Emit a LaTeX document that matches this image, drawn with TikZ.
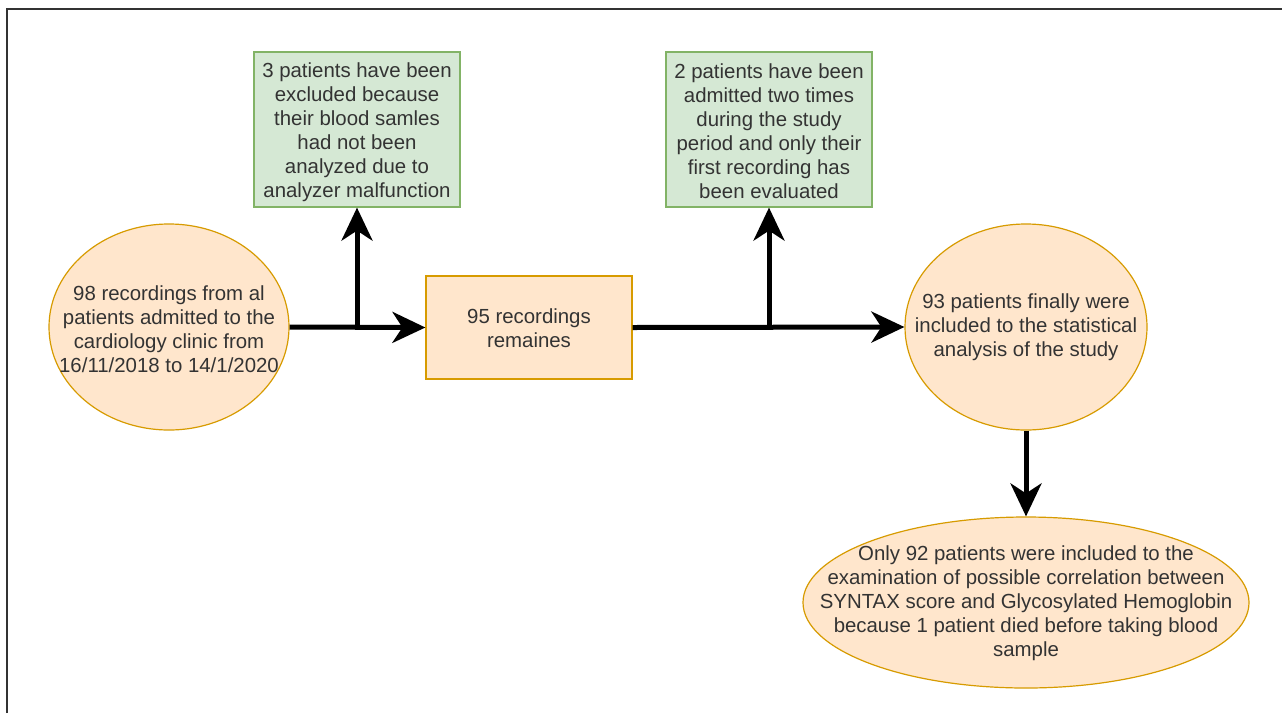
\documentclass[tikz,border=0pt]{standalone}
\usepackage{fontspec}
\setmainfont{Liberation Sans}
\usetikzlibrary{arrows.meta,shapes.geometric}
\definecolor{gfill}{HTML}{D5E8D4}
\definecolor{gdraw}{HTML}{82B366}
\definecolor{ofill}{HTML}{FFE6CC}
\definecolor{odraw}{HTML}{D79B00}
\definecolor{txtc}{HTML}{333333}
\tikzset{
  greenbox/.style={draw=gdraw, fill=gfill, line width=1.2pt, rectangle, inner sep=0pt},
  orangebox/.style={draw=odraw, fill=ofill, line width=1.2pt, rectangle, inner sep=0pt},
  orangeell/.style={draw=odraw, fill=ofill, line width=1.2pt, ellipse, inner sep=0pt},
  txt/.style={text=txtc, align=center, inner sep=0pt, font=\fontsize{20.4}{24}\selectfont},
  arr/.style={line width=5pt, black, -{Stealth[length=33pt, width=31pt, inset=10pt]}},
}
\begin{document}
\begin{tikzpicture}[x=1pt, y=-1pt]
\useasboundingbox (0,0) rectangle (1282,713);
\fill[white] (0,0) rectangle (1282,713);
\draw[txtc, line width=1.5pt] (7,713) -- (7,9) -- (1282,9);

% nodes
\node[greenbox, minimum width=206pt, minimum height=155pt] (g1) at (357,129.5) {};
\node[txt] at (357,132.5) {3 patients have been\\excluded because\\their blood samles\\had not been\\analyzed due to\\analyzer malfunction};

\node[orangeell, minimum width=240pt, minimum height=206pt] (e1) at (169,327) {};
\node[txt] at (169,329) {98 recordings from al\\patients admitted to the\\cardiology clinic from\\16/11/2018 to 14/1/2020};

\node[orangebox, minimum width=206pt, minimum height=103pt] (r1) at (529,327.5) {};
\node[txt] at (529,328.5) {95 recordings\\remaines};

\node[greenbox, minimum width=206pt, minimum height=155pt] (g2) at (769,129.5) {};
\node[txt] at (769,131) {2 patients have been\\admitted two times\\during the study\\period and only their\\first recording has\\been evaluated};

\node[orangeell, minimum width=242pt, minimum height=206pt] (e2) at (1026,327) {};
\node[txt] at (1026,327.5) {93 patients finally were\\included to the statistical\\analysis of the study};

\node[orangeell, minimum width=446pt, minimum height=171pt] (e3) at (1026,602.5) {};
\node[txt] at (1026,603) {Only 92 patients were included to the\\examination of possible correlation between\\SYNTAX score and Glycosylated Hemoglobin\\because 1 patient died before taking blood\\sample};

% connectors
\coordinate (b1) at (g1.south |- e1.east);
\coordinate (b2) at (g2.south |- e2.west);
\draw[arr] (e1.east) -- (r1.west);
\draw[arr] (b1) -- (g1.south);
\draw[arr] (r1.east) -- (e2.west);
\draw[arr] (b2) -- (g2.south);
\draw[arr] (e2.south) -- (e3.north);
\end{tikzpicture}
\end{document}
